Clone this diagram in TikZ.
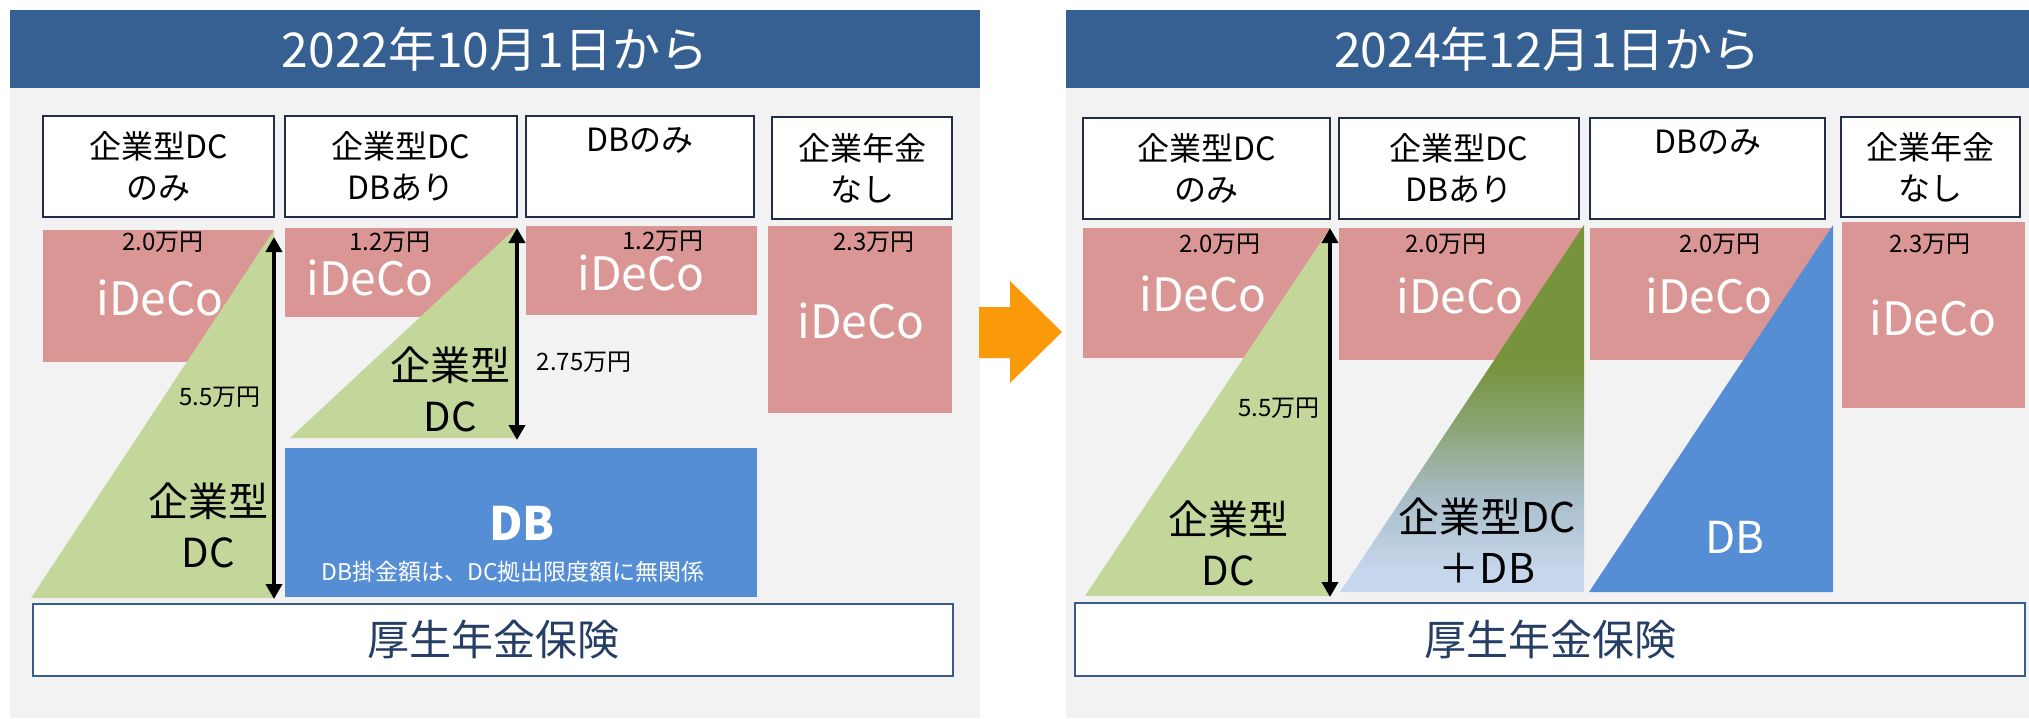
\documentclass[tikz,border=0pt]{standalone}
\usepackage{fontspec}
\setmainfont{Noto Sans CJK JP}
\usetikzlibrary{arrows.meta}
\newcommand{\fsz}[2]{\fontsize{#1pt}{#2pt}\selectfont}
\definecolor{headblue}{RGB}{54,96,146}
\definecolor{panelgray}{RGB}{242,242,242}
\definecolor{idecopink}{RGB}{218,150,148}
\definecolor{dcgreen}{RGB}{196,215,155}
\definecolor{dbblue}{RGB}{85,142,213}
\definecolor{olivegreen}{RGB}{119,147,60}
\definecolor{paleblue}{RGB}{198,214,236}
\definecolor{midblue}{RGB}{168,189,200}
\definecolor{midgreen}{RGB}{140,166,120}
\definecolor{arroworange}{RGB}{250,154,10}
\definecolor{navy}{RGB}{31,45,72}
\definecolor{baseline}{RGB}{56,93,138}
\definecolor{basetext}{RGB}{38,62,100}
\pgfdeclareverticalshading{dcdb}{100bp}{color(0bp)=(paleblue); color(28bp)=(paleblue); color(38bp)=(midblue); color(47bp)=(midgreen); color(56bp)=(olivegreen); color(100bp)=(olivegreen)}
\tikzstyle{rectangle1} = [rectangle, fill=headblue, text=white, minimum height=78pt, font=\fsz{48}{56}]
\tikzstyle{rectangle2} = [rectangle, draw=navy, line width=2pt, fill=white, minimum height=101pt, align=center, font=\fsz{32}{41}]
\tikzstyle{rectangle3} = [rectangle, fill=idecopink, anchor=north west, inner sep=0pt]
\tikzstyle{rectangle4} = [rectangle, draw=baseline, line width=2pt, fill=white, minimum height=72pt, text=basetext, font=\fsz{42}{50}]
\tikzstyle{amount} = [inner sep=0pt, font=\fsz{24}{28}]
\tikzstyle{ideco} = [inner sep=0pt, text=white, font=\fsz{46}{52}]
\tikzstyle{kind} = [align=center, font=\fsz{40}{51}]
\tikzstyle{measure} = [{Triangle[length=15pt,width=16pt]}-{Triangle[length=15pt,width=16pt]}, line width=4.5pt]

\begin{document}
\begin{tikzpicture}[x=1pt,y=-1pt]
	\useasboundingbox (0,0) rectangle (2029,718);
	% 2022
	\fill[panelgray] (10,88) rectangle (980,718);
	\node[rectangle1, minimum width=970pt] (lefttitle) at (495,49) {2022年10月1日から};
	\node[rectangle2, minimum width=231pt] (a1) at (158.5,166.5) {企業型DC\\のみ};
	\node[rectangle2, minimum width=232pt] (a2) at (401,166.5) {企業型DC\\DBあり};
	\node[rectangle2, minimum width=228pt] (a3) at (640,166.5) {DBのみ\\\strut};
	\node[rectangle2, minimum width=180pt, minimum height=102pt] (a4) at (862,168) {企業年金\\なし};
	\node[rectangle3, minimum width=231pt, minimum height=132pt] (p1) at (43,230) {};
	\node[rectangle3, minimum width=232pt, minimum height=89pt] (p2) at (285,228) {};
	\node[rectangle3, minimum width=231pt, minimum height=89pt] (p3) at (526,226) {};
	\node[rectangle3, minimum width=184pt, minimum height=187pt] (p4) at (768,226) {};
	\coordinate (g1a) at (274,230); \coordinate (g1b) at (31,598); \coordinate (g1c) at (274,598);
	\coordinate (g2a) at (517,227); \coordinate (g2b) at (290,438); \coordinate (g2c) at (517,438);
	\fill[dcgreen] (g1a) -- (g1b) -- (g1c) -- cycle;
	\fill[dcgreen] (g2a) -- (g2b) -- (g2c) -- cycle;
	\node[rectangle, fill=dbblue, minimum width=472pt, minimum height=149pt, anchor=north west] (db1) at (285,448) {};
	\node[text=white, font=\fsz{46}{52}\bfseries] (dbtitle) at (522,523) {DB};
	\node[text=white, font=\fsz{23}{27}] (dbnote) at (513,572) {DB掛金額は、DC拠出限度額に無関係};
	\node[amount] (v1) at (163,242) {2.0万円};
	\node[ideco] (i1) at (160,298) {iDeCo};
	\node[amount] (v2) at (390,242) {1.2万円};
	\node[ideco] (i2) at (370,278) {iDeCo};
	\node[amount] (v3) at (663,241) {1.2万円};
	\node[ideco] (i3) at (641,273) {iDeCo};
	\node[amount] (v4) at (874,242) {2.3万円};
	\node[ideco] (i4) at (861,321) {iDeCo};
	\node[amount] (m1) at (220,397) {5.5万円};
	\node[kind] (k1) at (208,525) {企業型\\DC};
	\node[amount] (m2) at (584,362) {2.75万円};
	\node[kind] (k2) at (450,389) {企業型\\DC};
	\coordinate (r1top) at (274,237); \coordinate (r1bot) at (274,599);
	\coordinate (r2top) at (517,228); \coordinate (r2bot) at (517,440);
	\draw[measure] (r1top) -- (r1bot);
	\draw[measure] (r2top) -- (r2bot);
	\node[rectangle4, minimum width=920pt] (base1) at (493,640) {厚生年金保険};

	% arrow
	\fill[arroworange] (979,307) -- (1010,307) -- (1010,281) -- (1062,332) -- (1010,383) -- (1010,358) -- (979,358) -- cycle;

	% 2024
	\fill[panelgray] (1066,88) rectangle (2029,718);
	\node[rectangle1, minimum width=963pt] (righttitle) at (1547.5,49) {2024年12月1日から};
	\node[rectangle2, minimum width=247pt] (b1) at (1206.5,168.5) {企業型DC\\のみ};
	\node[rectangle2, minimum width=240pt] (b2) at (1459,168.5) {企業型DC\\DBあり};
	\node[rectangle2, minimum width=235pt] (b3) at (1707.5,168.5) {DBのみ\\\strut};
	\node[rectangle2, minimum width=179pt, minimum height=100pt] (b4) at (1930.5,167) {企業年金\\なし};
	\node[rectangle3, minimum width=247pt, minimum height=130pt] (q1) at (1083,228) {};
	\node[rectangle3, minimum width=245pt, minimum height=132pt] (q2) at (1339,228) {};
	\node[rectangle3, minimum width=243pt, minimum height=132pt] (q3) at (1590,228) {};
	\node[rectangle3, minimum width=183pt, minimum height=186pt] (q4) at (1842,222) {};
	\coordinate (h1a) at (1330,228); \coordinate (h1b) at (1085,596); \coordinate (h1c) at (1330,596);
	\coordinate (h2a) at (1584,225); \coordinate (h2b) at (1340,592); \coordinate (h2c) at (1584,592);
	\coordinate (h3a) at (1833,225); \coordinate (h3b) at (1589,592); \coordinate (h3c) at (1833,592);
	\fill[dcgreen] (h1a) -- (h1b) -- (h1c) -- cycle;
	\shade[shading=dcdb] (h2a) -- (h2b) -- (h2c) -- cycle;
	\fill[dbblue] (h3a) -- (h3b) -- (h3c) -- cycle;
	\node[amount] (w1) at (1220,244) {2.0万円};
	\node[ideco] (j1) at (1203,294) {iDeCo};
	\node[amount] (w2) at (1446,244) {2.0万円};
	\node[ideco] (j2) at (1460,296) {iDeCo};
	\node[amount] (w3) at (1720,244) {2.0万円};
	\node[ideco] (j3) at (1709,296) {iDeCo};
	\node[amount] (w4) at (1930,244) {2.3万円};
	\node[ideco] (j4) at (1933,318) {iDeCo};
	\node[amount] (n1) at (1279,408) {5.5万円};
	\node[kind] (l1) at (1228,543) {企業型\\DC};
	\node[kind, font=\fsz{41}{51}] (l2) at (1487,541) {企業型DC\\＋DB};
	\node[text=white, font=\fsz{44}{50}] (dbright) at (1735,537) {DB};
	\coordinate (s1top) at (1330,228); \coordinate (s1bot) at (1330,597);
	\draw[measure] (s1top) -- (s1bot);
	\node[rectangle4, minimum width=950pt, minimum height=73pt] (base2) at (1550,639.5) {厚生年金保険};
\end{tikzpicture}
\end{document}
